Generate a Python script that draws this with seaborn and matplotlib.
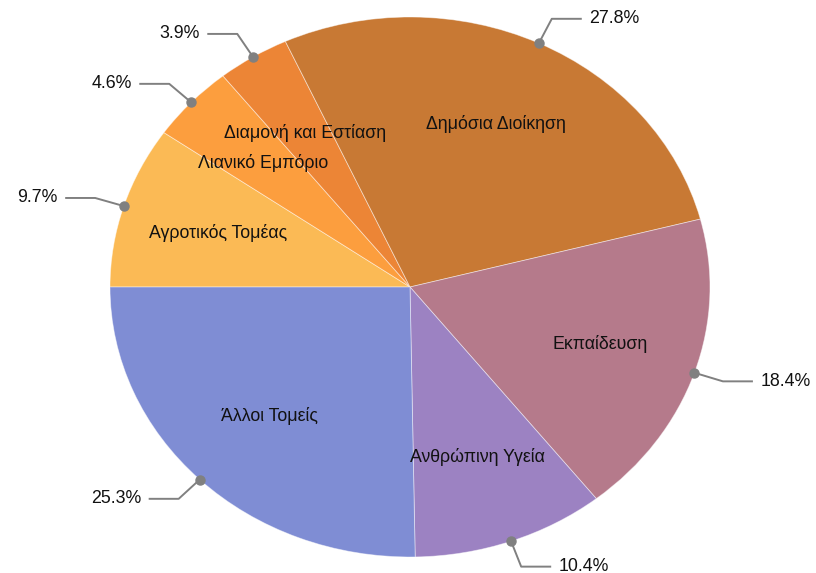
import numpy as np
import matplotlib.pyplot as plt
import seaborn as sns

# Κατανομή απασχόλησης ανά τομέα
tomeis = ["Αγροτικός Τομέας", "Λιανικό Εμπόριο", "Διαμονή και Εστίαση",
          "Δημόσια Διοίκηση", "Εκπαίδευση", "Ανθρώπινη Υγεία", "Άλλοι Τομείς"]
pososta = [9.7, 4.6, 3.9, 27.8, 18.4, 10.4, 25.3]
xromata = ["#FBBA55", "#FC9E3E", "#EC8536", "#C87934", "#B57A8B", "#9C82C2", "#7F8DD4"]

sns.set_style("white")
plt.rcParams['font.family'] = ['Liberation Sans', 'DejaVu Sans']

fig = plt.figure(figsize=(8.16, 5.73), dpi=100)
ax = fig.add_axes([0, 0, 1, 1])

palette = sns.color_palette(xromata)
wedges, texts = ax.pie(pososta, labels=tomeis, colors=palette, startangle=180,
                       counterclock=False, labeldistance=0.67, radius=1,
                       textprops=dict(fontsize=12.8, color="#111111", ha="center", va="center"),
                       wedgeprops=dict(linewidth=0.6, edgecolor=(1, 1, 1, 0.5)))
for t in texts:
    t.set_ha("center")

# ελλειπτικό σχήμα όπως στο πρωτότυπο
ax.set_aspect("auto")
ax.set_xlim(-410 / 300, 406 / 300)
ax.set_ylim(-286 / 270, 287 / 270)
ax.axis("off")

# ετικέτες ποσοστών με γραμμές οδηγούς
for w, p in zip(wedges, pososta):
    ang = np.deg2rad((w.theta1 + w.theta2) / 2)
    c, s = np.cos(ang), np.sin(ang)
    x0, y0 = c, s
    x1, y1 = 1.1 * c, 1.1 * s
    sgn = 1 if c >= 0 else -1
    x2 = x1 + sgn * 0.1
    ax.plot([x0, x1, x2], [y0, y1, y1], color="#808080", lw=1.4, zorder=5,
            solid_capstyle="butt")
    ax.plot(x0, y0, "o", color="#808080", ms=6.5, zorder=6)
    ax.text(x2 + sgn * 0.025, y1, f"{p}%", ha="left" if sgn > 0 else "right",
            va="center", fontsize=12.8, color="#111111")

plt.savefig("out.png", dpi=100)
